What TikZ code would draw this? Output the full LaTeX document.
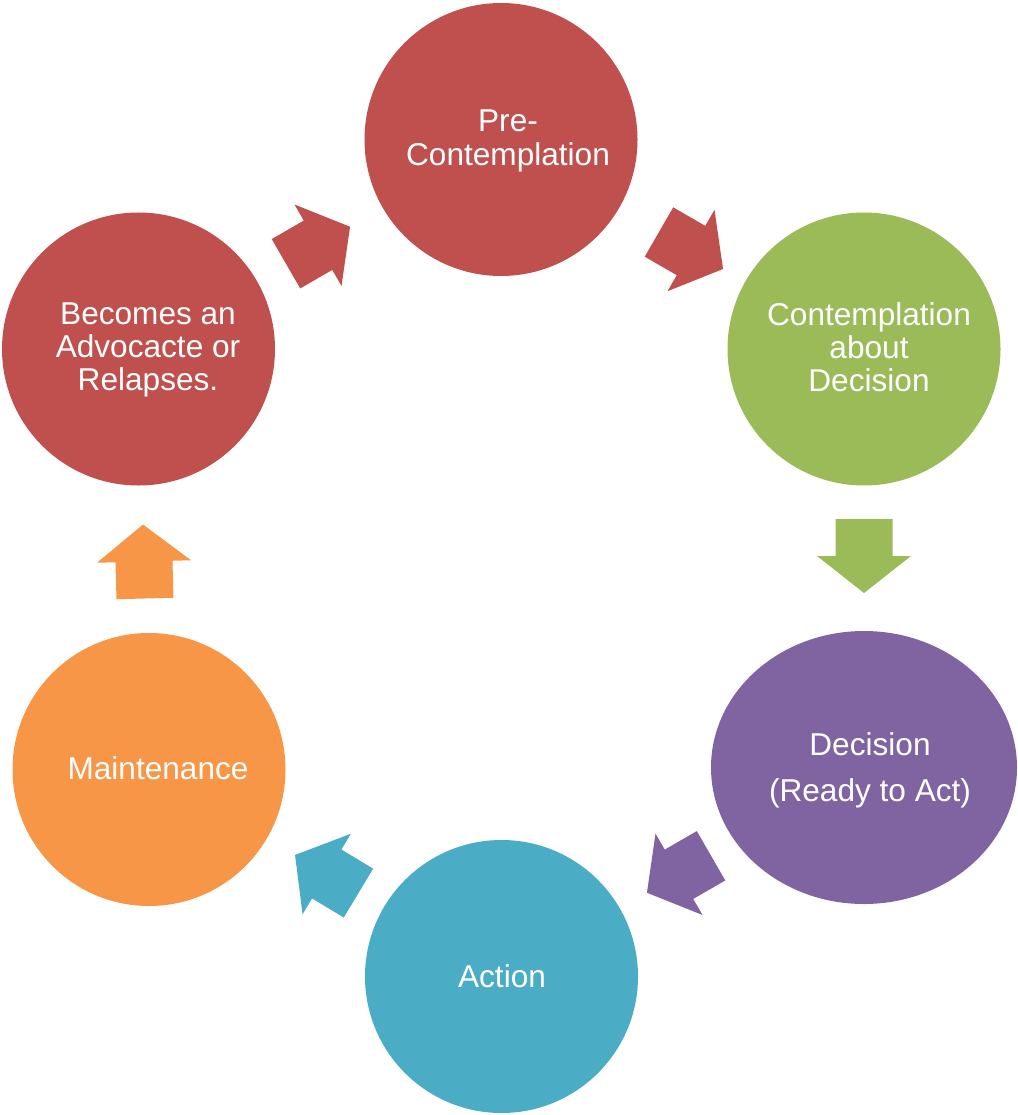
\documentclass[tikz,border=0pt]{standalone}
\usepackage{fontspec}
\newfontfamily\stagefont{Liberation Sans}
\usetikzlibrary{shapes.geometric}
\definecolor{stageRed}{HTML}{C0504D}
\definecolor{stageGreen}{HTML}{9BBB59}
\definecolor{stagePurple}{HTML}{8064A2}
\definecolor{stageBlue}{HTML}{4BACC6}
\definecolor{stageOrange}{HTML}{F79646}
\begin{document}
\begin{tikzpicture}[x=1pt,y=-1pt,
  stage/.style={circle, draw=none, inner sep=0pt, minimum size=273pt},
  stagetext/.style={text=white, align=center, inner sep=0pt,
    font=\stagefont\fontsize{31.6}{33.2}\selectfont},
  % block arrow centred on the base of its head, pointing along +x
  stagearrow/.pic={\fill (-37,-28.5) -- (0,-28.5) -- (0,-47) -- (37,0)
      -- (0,47) -- (0,28.5) -- (-37,28.5) -- cycle;}
]
\useasboundingbox (0,0) rectangle (1017,1115);

% stages of the cycle
\node[stage, fill=stageRed]    (pre) at (501,139.5) {};
\node[stage, fill=stageGreen]  (con) at (864,349) {};
\node[ellipse, draw=none, inner sep=0pt, minimum width=306pt,
      minimum height=273pt, fill=stagePurple] (dec) at (864,767.5) {};
\node[stage, fill=stageBlue]   (act) at (501.5,976.5) {};
\node[stage, fill=stageOrange] (mnt) at (149,769.5) {};
\node[stage, fill=stageRed]    (adv) at (138.5,349) {};

% stage labels
\node[stagetext] (pre-t) at (508,141) {Pre-\hspace{0.28em}\\Contemplation};
\node[stagetext] (con-t) at (869,347) {Contemplation\\about\\Decision};
\node[stagetext] (dec-t) at (870,770) {Decision\\[12.8pt](Ready to Act)};
\node[stagetext] (act-t) at (502,975.7) {Action};
\node[stagetext] (mnt-t) at (158,768) {Maintenance};
\node[stagetext] (adv-t) at (148,350) {Becomes an\\Advocacte or\\Relapses.};

% arrows between the stages
\pic[fill=stageRed, rotate=30]     at (318,245.25) {stagearrow};
\pic[fill=stageRed, rotate=-30]    at (691,250.5)  {stagearrow};
\pic[fill=stageGreen, rotate=-90]  at (864,556)    {stagearrow};
\pic[fill=stagePurple, rotate=210] at (679,874.25) {stagearrow};
\pic[fill=stageBlue, rotate=149]   at (326.75,874) {stagearrow};
\pic[fill=stageOrange, rotate=91.5] at (144,561.5) {stagearrow};
\end{tikzpicture}
\end{document}
